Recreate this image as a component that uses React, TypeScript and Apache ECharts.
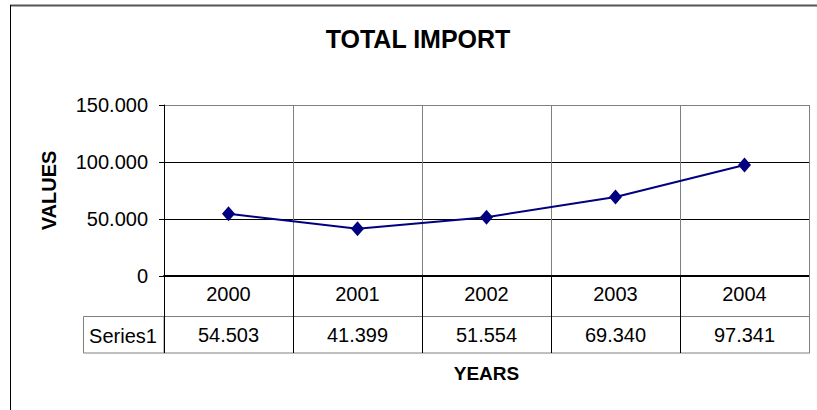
import React, { useEffect, useRef } from "react";
import * as echarts from "echarts";

const years = ["2000", "2001", "2002", "2003", "2004"];
const values = [54503, 41399, 51554, 69340, 97341];
const seriesName = "Series1";
const yTicks = { min: 0, max: 150000, interval: 50000 };

const fmt = (n: number) =>
  Math.round(n)
    .toString()
    .replace(/\B(?=(\d{3})+(?!\d))/g, ".");

const FONT = "'Liberation Sans', Arial, sans-serif";

export default function App() {
  const ref = useRef<HTMLDivElement>(null);
  useEffect(() => {
    if (!ref.current) return;
    const chart = echarts.init(ref.current, undefined, { renderer: "svg" });
    const gridLeft = 164;
    const gridRight = 809;
    const gridTop = 105;
    const gridBottom = 276;
    chart.setOption({
      animation: false,
      backgroundColor: "#fff",
      textStyle: { fontFamily: FONT },
      title: {
        text: "TOTAL IMPORT",
        left: 413,
        textAlign: "center",
        top: 21,
        textStyle: { fontSize: 25, fontWeight: "bold", color: "#000", fontFamily: FONT },
      },
      grid: {
        left: gridLeft,
        right: 817 - gridRight,
        top: gridTop,
        bottom: 410 - gridBottom,
        containLabel: false,
      },
      xAxis: [
        {
          type: "category",
          data: years,
          position: "bottom",
          axisLine: { show: true, lineStyle: { color: "#000", width: 2 } },
          axisTick: { show: true, length: 77, alignWithLabel: false, lineStyle: { color: "#000", width: 1 } },
          axisLabel: { fontSize: 20, color: "#000", margin: 8, fontFamily: FONT },
          splitLine: { show: true, lineStyle: { color: "#808080", width: 1 } },
        },
        {
          type: "category",
          data: values.map(fmt),
          position: "bottom",
          offset: 40,
          name: "YEARS",
          nameLocation: "middle",
          nameGap: 48,
          nameTextStyle: { fontSize: 19, fontWeight: "bold", color: "#000", fontFamily: FONT },
          axisLine: { show: true, lineStyle: { color: "#808080", width: 1 } },
          axisTick: { show: false },
          axisLabel: { fontSize: 20, color: "#000", margin: 9, fontFamily: FONT },
          splitLine: { show: false },
        },
      ],
      yAxis: {
        type: "value",
        min: yTicks.min,
        max: yTicks.max,
        interval: yTicks.interval,
        name: "VALUES",
        nameLocation: "middle",
        nameRotate: 90,
        nameGap: 105,
        nameTextStyle: { fontSize: 20, fontWeight: "bold", color: "#000", fontFamily: FONT },
        axisLine: { show: true, lineStyle: { color: "#000", width: 1 } },
        axisTick: { show: true, length: 5, lineStyle: { color: "#000" } },
        axisLabel: { fontSize: 20, color: "#000", margin: 16, formatter: (v: number) => fmt(v), fontFamily: FONT },
        splitLine: { show: true, lineStyle: { color: ["#000", "#000", "#000", "#808080"], width: 1 } },
      },
      series: [
        {
          name: seriesName,
          type: "line",
          data: values,
          xAxisIndex: 0,
          symbol: "diamond",
          symbolSize: [13, 15],
          lineStyle: { color: "#000080", width: 2 },
          itemStyle: { color: "#000080" },
          z: 5,
        },
      ],
      graphic: [
        { type: "line", shape: { x1: 10, y1: 5.5, x2: 817, y2: 5.5 }, style: { stroke: "#555", lineWidth: 2 } },
        { type: "line", shape: { x1: 10.5, y1: 5, x2: 10.5, y2: 410 }, style: { stroke: "#000", lineWidth: 1 } },
        { type: "line", shape: { x1: gridRight + 0.5, y1: gridTop, x2: gridRight + 0.5, y2: 353 }, style: { stroke: "#808080", lineWidth: 1 }, z: 10 },
        { type: "rect", shape: { x: 83.5, y: 316.5, width: gridLeft - 83.5, height: 36.5 }, style: { stroke: "#808080", fill: "none", lineWidth: 1 } },
        { type: "line", shape: { x1: gridLeft, y1: 353, x2: gridRight + 1, y2: 353 }, style: { stroke: "#808080", lineWidth: 1 } },
        {
          type: "text",
          x: 123,
          y: 336,
          style: { text: seriesName, fontSize: 20, fill: "#000", textAlign: "center", textVerticalAlign: "middle", fontFamily: FONT },
        },
      ],
    });
    return () => chart.dispose();
  }, []);
  return (
    <div
      ref={ref}
      style={{ position: "fixed", left: 0, top: 0, width: 817, height: 410 }}
    />
  );
}
